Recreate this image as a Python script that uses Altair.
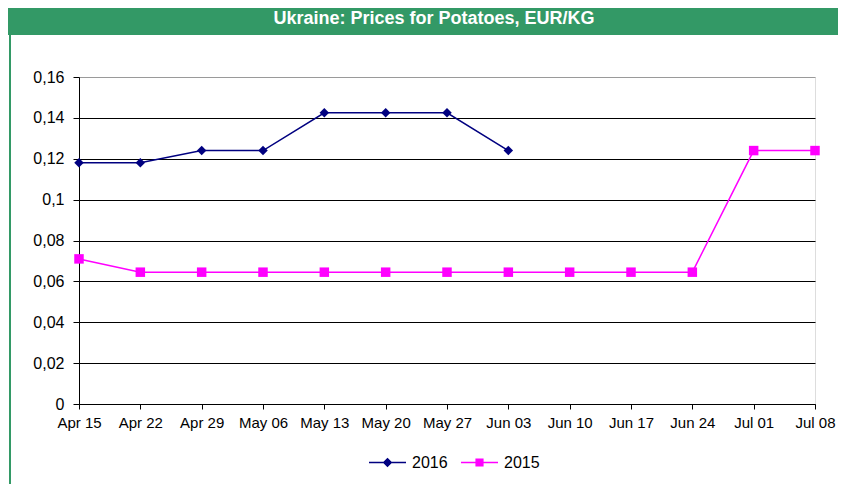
import altair as alt
import pandas as pd

dates = ["Apr 15", "Apr 22", "Apr 29", "May 06", "May 13", "May 20", "May 27",
         "Jun 03", "Jun 10", "Jun 17", "Jun 24", "Jul 01", "Jul 08"]
v2016 = [0.118, 0.118, 0.124, 0.124, 0.1425, 0.1425, 0.1425, 0.124]
v2015 = [0.071, 0.0645, 0.0645, 0.0645, 0.0645, 0.0645, 0.0645, 0.0645,
         0.0645, 0.0645, 0.0645, 0.124, 0.124]
series = ["2016", "2015"]
colors = ["#000080", "#FF00FF"]
shapes = ["diamond", "square"]
legend_paths = ["M-1,0L1,0M0,-0.2L0.2,0L0,0.2L-0.2,0Z",
                "M-1,0L1,0M-0.18,-0.18L0.18,-0.18L0.18,0.18L-0.18,0.18Z"]
title_text = "Ukraine: Prices for Potatoes, EUR/KG"
y_ticks = [0, 0.02, 0.04, 0.06, 0.08, 0.10, 0.12, 0.14, 0.16]

FONT = "Liberation Sans"
W, H = 736, 327
PB = 80

x = alt.X("date:N", sort=dates, scale=alt.Scale(type="point", padding=0),
          axis=alt.Axis(title=None, labelAngle=0, labelFont=FONT, labelFontSize=15,
                        labelColor="black", tickColor="black", tickSize=5,
                        domainColor="black", labelPadding=6, grid=False))
y = alt.Y("price:Q", scale=alt.Scale(domain=[0, 0.16], nice=False),
          axis=alt.Axis(title=None, values=y_ticks, labelFont=FONT, labelFontSize=16,
                        labelColor="black", tickColor="black", tickSize=6,
                        domainColor="black", labelPadding=9,
                        labelExpr="replace(format(datum.value, '.2~f'), '.', ',')",
                        grid=True,
                        gridColor={"condition": {"test": "datum.value >= 0.159", "value": "#9a9a9a"}, "value": "black"},
                        gridWidth=1))


def series_layer(name, vals, col, shape, path, lx):
    d = pd.DataFrame({"date": dates[:len(vals)], "price": vals, "year": name})
    legend = alt.Legend(
        orient="none", legendX=lx, legendY=366, direction="horizontal", title=None,
        symbolType=path, symbolSize=1369, symbolStrokeWidth=1.5,
        symbolFillColor=col, symbolStrokeColor=col, symbolOpacity=1,
        labelFontSize=16, labelFont=FONT, labelColor="black", labelOffset=5,
        padding=0)
    color = alt.Color("year:N", scale=alt.Scale(domain=[name], range=[col]), legend=legend)
    b = alt.Chart(d)
    ln = b.mark_line(strokeWidth=1.5).encode(x=x, y=y, color=color)
    pt = b.mark_point(filled=True, size=90, opacity=1, shape=shape).encode(x=x, y=y, color=color)
    return alt.layer(ln, pt)


s16 = series_layer(series[0], v2016, colors[0], shapes[0], legend_paths[0], 289)
s15 = series_layer(series[1], v2015, colors[1], shapes[1], legend_paths[1], 381)

one = pd.DataFrame({"t": [title_text]})
banner = alt.Chart(one).mark_rect(color="#339966").encode(
    x=alt.value(-73), x2=alt.value(W + 40), y=alt.value(-74), y2=alt.value(-42))
title = alt.Chart(one).mark_text(color="white", font=FONT, fontSize=18, fontWeight="bold",
                                 baseline="middle", align="center").encode(
    text="t:N", x=alt.value(355), y=alt.value(-58))
border = alt.Chart(one).mark_rule(color="#339966", strokeWidth=2).encode(
    x=alt.value(-69), y=alt.value(-42), y2=alt.value(H + PB))

chart = alt.layer(banner, title, border, s16, s15).resolve_scale(
    color="independent").resolve_legend(color="independent").properties(
    width=W, height=H,
    autosize=alt.AutoSizeParams(type="none"),
    padding={"left": 71, "top": 69, "right": 23, "bottom": PB},
).configure_view(stroke="#9a9a9a", strokeWidth=1).configure(background="white")

chart.save("out.html", embed_options={"renderer": "svg", "actions": False})
